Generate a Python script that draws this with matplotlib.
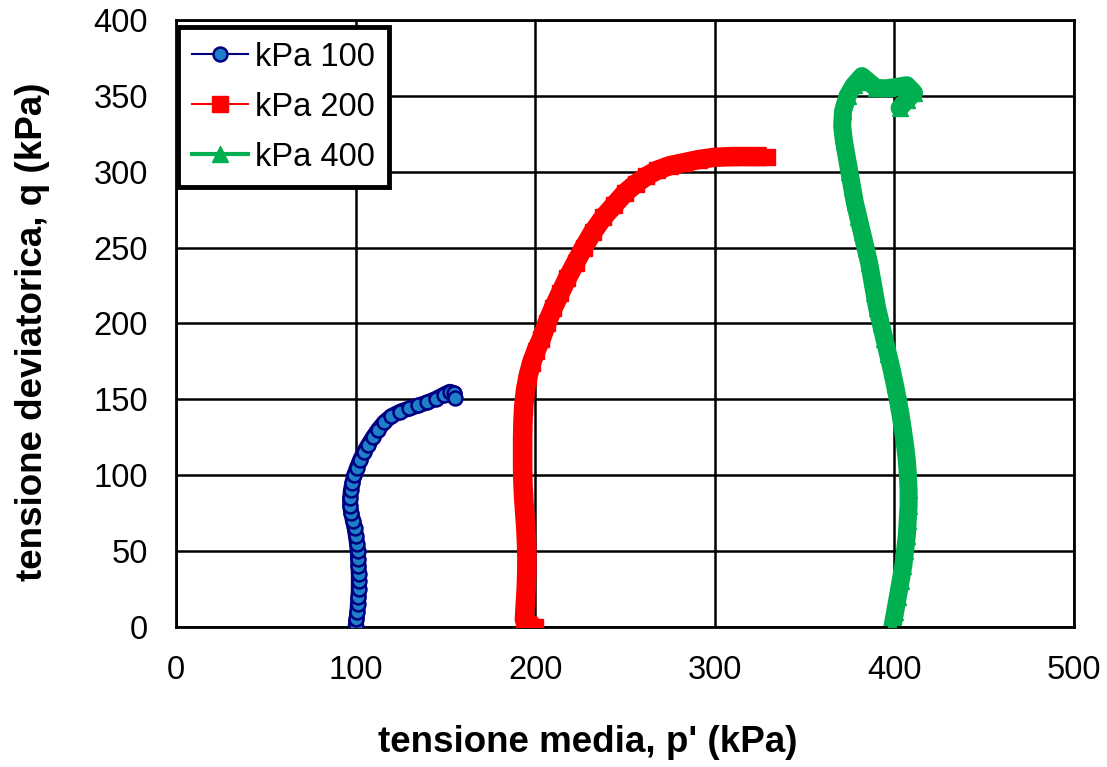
import matplotlib.pyplot as plt

plt.rcParams['font.family'] = ['Liberation Sans', 'DejaVu Sans']

# percorsi tensionali (p', q)
p_100 = [100, 100.5, 101, 101.3, 101.6, 101.8, 101.8, 101.8, 101.6, 101.4, 101.2, 100.8,
         100.2, 99.5, 98.6, 97.6, 97, 97, 97.4, 98.2, 99.3, 100.8, 102.5, 104.5, 107,
         109.6, 112.5, 116, 120, 125, 130, 135, 140, 145, 149, 152.5, 155, 155.5]
q_100 = [0, 5, 10, 15, 20, 25, 30, 35, 40, 45, 50, 55,
         60, 65, 70, 75, 80, 85, 90, 95, 100, 105, 110, 115, 120,
         125, 130, 135, 139, 142, 144, 146, 148, 150.5, 153, 155, 154, 151]

p_200 = [200, 196, 194, 194.5, 195, 195.3, 195.4, 195.2, 194.8, 194.2, 193.6, 193.2, 193,
         193, 193, 193.2, 193.6, 194.5, 196, 198, 200.5, 203.5, 206.5, 210, 214, 218,
         222.5, 227, 232, 238, 244, 250, 256, 262, 268, 275, 283, 291, 300, 310, 320, 329]
q_200 = [0, 2, 5, 15, 25, 35, 45, 55, 65, 75, 85, 95, 105,
         115, 125, 135, 145, 155, 165, 174, 182, 190, 200, 210, 220, 230,
         240, 250, 260, 270, 278, 286, 292, 297, 301, 304, 306, 308, 309.5, 310, 310, 310]

p_400 = [399, 400.5, 402, 403.5, 405, 406, 407, 407.5, 408, 408, 407.6, 407, 406, 404.8,
         403.5, 402, 400.3, 398.5, 396.5, 394.5, 392.5, 390.5, 389, 387.5, 386, 384, 382,
         380, 378, 376.5, 375, 373.5, 372, 371, 371.5, 374, 377.5, 382, 386, 390, 396,
         402, 407, 411, 407, 403]
q_400 = [0, 10, 20, 30, 40, 50, 60, 70, 80, 90, 100, 110, 120, 130,
         140, 150, 160, 170, 180, 190, 200, 210, 220, 230, 240, 250, 260,
         270, 280, 290, 300, 310, 320, 330, 340, 350, 357, 363, 359, 355, 355,
         356, 357, 352, 347, 342]

fig = plt.figure(figsize=(11.07, 7.67), dpi=100)
ax = fig.add_axes([0.159, 0.1825, 0.811, 0.7915])

# banda spessa (punti sovrapposti)
ax.plot(p_100, q_100, color='#000080', lw=11.5, solid_capstyle='round', zorder=2)
ax.plot(p_200, q_200, color='#FF0000', lw=14, solid_capstyle='butt', zorder=2)
ax.plot(p_400, q_400, color='#00B050', lw=13, solid_capstyle='round', zorder=2)

ax.plot(p_100, q_100, color='#000080', lw=1.5, marker='o', ms=10,
        mfc='#1F80C8', mec='#000080', mew=1.8, label='kPa 100', zorder=3)
ax.plot(p_200, q_200, color='#FF0000', lw=1.5, marker='s', ms=11,
        mfc='#FF0000', mec='#FF0000', label='kPa 200', zorder=3)
ax.plot(p_400, q_400, color='#00B050', lw=3, marker='^', ms=11,
        mfc='#00B050', mec='#00B050', label='kPa 400', zorder=3)

ax.set_xlim(0, 500)
ax.set_ylim(0, 400)
ax.set_xticks(range(0, 501, 100))
ax.set_yticks(range(0, 401, 50))
ax.grid(True, color='black', lw=1.8)
ax.set_axisbelow(True)
for s in ax.spines.values():
    s.set_linewidth(2)
    s.set_color('black')
ax.tick_params(length=0, labelsize=23.5, pad=20)

ax.set_xlabel("tensione media, p' (kPa)", fontsize=26.5, fontweight='bold')
ax.set_ylabel("tensione deviatorica, q (kPa)", fontsize=26.5, fontweight='bold')
ax.xaxis.set_label_coords(0.459, -0.19)
ax.yaxis.set_label_coords(-0.160, 0.486)
ax.xaxis.label.set_va('center')
ax.yaxis.label.set_va('center')

leg = ax.legend(loc='upper left', bbox_to_anchor=(0.002, 0.988), fontsize=23.5,
                handlelength=1.7, handletextpad=0.2, labelspacing=0.58,
                borderpad=0.45, fancybox=False, framealpha=1, borderaxespad=0)
leg.get_frame().set_edgecolor('black')
leg.get_frame().set_linewidth(3.5)

fig.savefig('out.png', dpi=100)
